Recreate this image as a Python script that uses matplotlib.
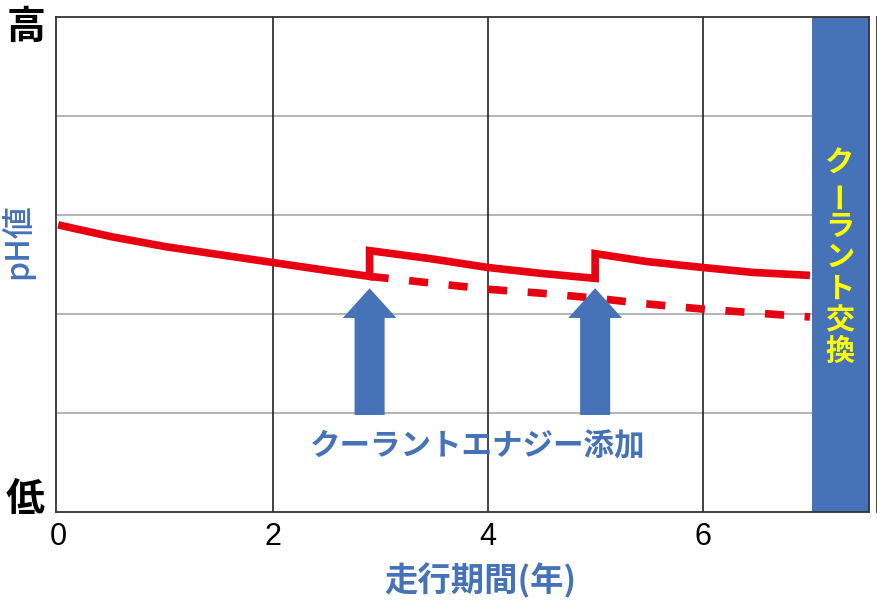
import matplotlib.pyplot as plt
from matplotlib.patches import FancyArrow
from matplotlib.lines import Line2D

plt.rcParams['font.family'] = ['Noto Sans CJK JP', 'DejaVu Sans']

# pH with coolant energy added (solid)
yrs_1 = [0, 0.5, 1, 1.5, 2, 2.5, 2.9]
ph_1 = [2.90, 2.78, 2.68, 2.60, 2.52, 2.44, 2.38]
yrs_2 = [2.9, 3.46, 4, 4.5, 5.0]
ph_2 = [2.64, 2.56, 2.47, 2.41, 2.36]
yrs_3 = [5.0, 5.48, 6, 6.47, 7.0]
ph_3 = [2.61, 2.53, 2.47, 2.42, 2.39]
# without additive (dashed)
yrs_d = [2.9, 3.5, 4, 4.5, 5, 5.5, 6, 6.5, 7.0]
ph_d = [2.38, 2.31, 2.25, 2.21, 2.16, 2.10, 2.05, 2.01, 1.97]

add_years = [2.9, 5.0]
arrow_base, arrow_tip = 0.98, 2.26
swap_start, swap_end = 7.02, 7.55

xticks = [0, 2, 4, 6]
red = '#e60012'
blue = '#4672b8'

fig = plt.figure(figsize=(8.78, 6.02), dpi=100)
ax = fig.add_axes([56/878, 90/602, 813/878, 495/602])
ax.set_xlim(-0.02, 7.55)
ax.set_ylim(0, 5)

for yv in [1, 2, 3, 4]:
    ax.axhline(yv, color='#a0a0a0', lw=1.1, zorder=1)
for xv in [2, 4, 6]:
    ax.axvline(xv, color='#222222', lw=1.2, zorder=1)

ax.axvspan(swap_start, swap_end, color=blue, zorder=2, lw=0)

solid_x = yrs_1 + yrs_2 + yrs_3
solid_y = ph_1 + ph_2 + ph_3
ax.plot(solid_x, solid_y, color=red, lw=5.5, solid_joinstyle='miter',
        solid_capstyle='butt', zorder=4)
ax.plot(yrs_d, ph_d, color=red, lw=5.5, dashes=(2.5, 2.7),
        dash_capstyle='butt', zorder=3)

for xa in add_years:
    ax.add_patch(FancyArrow(xa, arrow_base, 0, arrow_tip - arrow_base,
                            width=0.28, head_width=0.50, head_length=0.30,
                            length_includes_head=True, color=blue, lw=0,
                            zorder=5))

ax.text(3.91, 0.66, 'クーラントエナジー添加', color=blue, fontsize=22,
        fontweight='bold', ha='center', va='center', zorder=6)

# vertical label inside the blue band
band_chars = 'クーラント交換'
for i, ch in enumerate(band_chars):
    ypix = 163 + 31.4 * i
    ax.text((swap_start + 7.54) / 2, (512 - ypix) / 99, ch,
            color='#ffff00', fontsize=21, fontweight='bold',
            ha='center', va='center', rotation=90 if ch == 'ー' else 0,
            zorder=6)

ax.set_xticks(xticks)
ax.set_xticklabels([str(t) for t in xticks], fontsize=22,
                   family='Liberation Sans')
ax.set_yticks([])
ax.tick_params(axis='x', length=0, pad=7)
for s in ax.spines.values():
    s.set_color('#333333')
    s.set_linewidth(1.3)

ax.set_xlabel('走行期間(年)', color=blue, fontsize=24, fontweight='bold')
ax.xaxis.set_label_coords((480 - 56) / 813, -(581 - 512) / 495)
ax.xaxis.label.set_va('center')

fig.text(26/878, 1 - 27/602, '高', fontsize=28, fontweight='bold',
         ha='center', va='center')
fig.text(25/878, 1 - 500/602, '低', fontsize=28, fontweight='bold',
         ha='center', va='center')
fig.text(17/878, 1 - 241/602, 'pH値', fontsize=23, color=blue,
         fontweight='medium', rotation=90, ha='center', va='center')

fig.add_artist(Line2D([877/878, 877/878], [90/602, 585/602],
                      color='#222222', lw=1.2))

fig.savefig('out.png', dpi=100)
